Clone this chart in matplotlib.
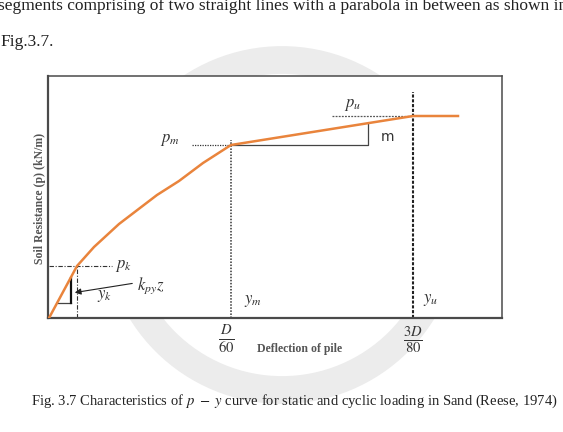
import matplotlib
matplotlib.use("Agg")
import matplotlib.pyplot as plt
import matplotlib.patches as patches

plt.rcParams['font.family'] = ['Liberation Serif', 'DejaVu Serif']
plt.rcParams['mathtext.fontset'] = 'stix'

W, H = 563, 432

# p-y curve (arbitrary units, origin at the axes corner)
deflection = [0, 28, 45, 70, 108, 130, 154, 182, 364, 409]
resistance = [0, 52, 71, 94, 123, 137, 155, 173, 202, 202]

# characteristic points
y_k, p_k = 28, 52
y_m, p_m = 182, 173
y_u, p_u = 364, 202

body_line = "segments comprising of two straight lines with a parabola in between as shown in"
fig_ref = "Fig.3.7."
caption = "Fig. 3.7 Characteristics of $p\\ -\\ y$ curve for static and cyclic loading in Sand (Reese, 1974)"

ORANGE = "#e9843c"
GREY = "#4a4a4a"


def px(x, y):
  return x / W, 1 - y / H


fig = plt.figure(figsize=(W / 100, H / 100), dpi=100)

# faint watermark ring behind the page
wm = fig.add_axes([0, 0, 1, 1], zorder=0)
wm.set_xlim(0, W)
wm.set_ylim(H, 0)
wm.set_axis_off()
wm.add_patch(patches.Circle((282, 225), 165, fill=False, lw=20, edgecolor="#ececec"))

# first body line is cut by the top of the page
fig.text(*px(-2, 6), body_line, fontsize=12.5, va="center", ha="left", color="#222222")
fig.text(*px(0, 42), fig_ref, fontsize=12.5, va="center", ha="left", color="#222222")

ax = fig.add_axes([48 / W, 1 - 318 / H, 454 / W, 242 / H], zorder=2)
ax.set_xlim(-1, 453)
ax.set_ylim(0, 242)
ax.set_xticks([])
ax.set_yticks([])
for side, sp in ax.spines.items():
  sp.set_color(GREY)
  sp.set_linewidth(1.6 if side in ("left", "bottom") else 1.1)

# guide lines
ax.plot([0, 63], [p_k, p_k], color="#333333", lw=0.8, ls=(0, (4, 1.5, 1, 1.5)))
ax.plot([y_k, y_k], [0, p_k], color="#333333", lw=0.8, ls=(0, (4, 1.5, 1, 1.5)))
ax.plot([143, y_m], [p_m, p_m], color="#333333", lw=0.9, ls=(0, (1, 1)))
ax.plot([y_m, y_m], [0, p_m + 5], color="#333333", lw=1.1, ls=(0, (1, 1)))
ax.plot([283, y_u], [p_u, p_u], color="#555555", lw=0.9, ls=(0, (1.5, 1)))
ax.plot([y_u, y_u], [0, 226], color="#222222", lw=1.5, ls=(0, (1.5, 0.8)))

# slope triangle for m
ax.plot([y_m, 319, 319], [p_m, p_m, 195], color="#444444", lw=0.9)
# initial stiffness triangle
ax.plot([9, 22], [15, 15], color="#444444", lw=0.9)
ax.plot([22, 22], [15, 40], color="#111111", lw=1.6)
ax.annotate("", xy=(23, 25), xytext=(86, 35),
            arrowprops=dict(arrowstyle="-|>", color="#222222", lw=0.8, mutation_scale=9))

ax.plot(deflection, resistance, color=ORANGE, lw=1.8, zorder=5)

ax.text(66, p_k, "$p_k$", fontsize=12, va="center", ha="left", color="#333333")
ax.text(48, 22, "$y_k$", fontsize=12, va="center", ha="left", color="#333333")
ax.text(88, 32, "$k_{py}z$", fontsize=12, va="center", ha="left", color="#333333")
ax.text(121, 178, "$p_m$", fontsize=12, va="center", ha="center", color="#333333")
ax.text(195, 17, "$y_m$", fontsize=12, va="center", ha="left", color="#333333")
ax.text(304, 213, "$p_u$", fontsize=12, va="center", ha="center", color="#333333")
ax.text(374, 18, "$y_u$", fontsize=12, va="center", ha="left", color="#333333")
ax.text(332, 181, "m", fontsize=10, family="DejaVu Sans", va="center", ha="left", color="#333333")

fig.text(*px(40, 198), "Soil Resistance (p) (kN/m)", rotation=90, fontsize=8.5,
         fontweight="bold", va="center", ha="center", color="#555555")
fig.text(*px(300, 349), "Deflection of pile", fontsize=8.5, fontweight="bold",
         va="center", ha="center", color="#555555")
fig.text(*px(226, 340), "$\\frac{D}{60}$", fontsize=15, va="center", ha="center", color="#333333")
fig.text(*px(413, 340), "$\\frac{3D}{80}$", fontsize=15, va="center", ha="center", color="#333333")

fig.text(*px(294, 401), caption, fontsize=10.5, va="center", ha="center", color="#222222")

fig.savefig("out.png", dpi=100)
